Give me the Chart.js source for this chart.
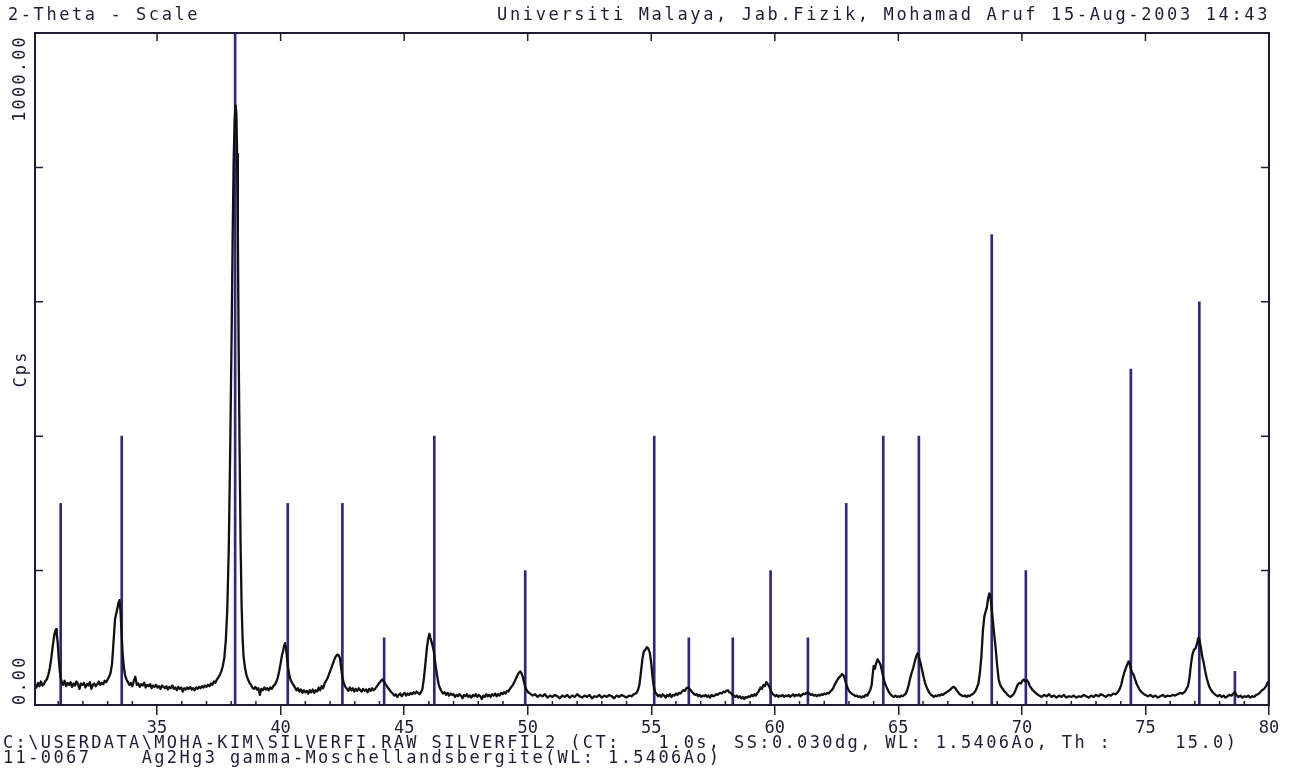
<!DOCTYPE html>
<html>
<head>
<meta charset="utf-8">
<script src="https://cdn.jsdelivr.net/npm/chart.js@4.4.0/dist/chart.umd.min.js"></script>
<style>
    html, body { margin: 0; padding: 0; background: #ffffff; }
    #wrap { width: 1291px; height: 775px; }
</style>
</head>
<body>
<div id="wrap"><canvas id="xrd" width="1291" height="775"></canvas></div>
<script>
var scan30to34 = [
    [30.06,30],[30.12,26],[30.18,33],[30.24,28],[30.30,35],[30.36,29],[30.42,31],[30.48,36],[30.54,38],
    [30.60,45],[30.66,55],[30.72,70],[30.78,88],[30.84,104],[30.88,110],[30.91,113],[30.94,106],[30.98,92],
    [31.02,70],[31.06,52],[31.10,40],[31.15,34],[31.20,30],
    [31.26,36],[31.32,28],[31.38,33],[31.44,30],[31.50,34],[31.56,27],[31.62,32],[31.68,29],[31.74,35],
    [31.80,31],[31.86,24],[31.92,32],[31.98,30],[32.04,33],[32.10,26],[32.16,31],[32.22,29],[32.28,34],
    [32.34,24],[32.40,30],[32.46,32],[32.52,28],[32.58,31],[32.64,35],[32.70,30],[32.76,33],[32.82,31],
    [32.88,36],[32.94,34],[33.00,38],[33.06,42],
    [33.12,48],[33.18,62],[33.24,95],[33.30,128],[33.36,138],[33.40,145],[33.44,152],[33.48,156],
    [33.52,140],[33.56,110],[33.60,80],[33.65,58],[33.70,45],[33.76,38],[33.82,34]
];
var scan34to39 = [
    [33.88,30],[33.94,33],[34.00,28],[34.06,36],[34.12,42],[34.18,30],[34.24,32],[34.30,27],[34.36,31],
    [34.42,29],[34.48,33],[34.54,26],[34.60,30],[34.66,28],[34.72,31],[34.78,25],[34.84,29],[34.90,27],
    [34.96,30],[35.02,26],[35.08,28],[35.14,24],[35.20,29],[35.26,27],[35.32,25],[35.38,28],[35.44,23],
    [35.50,27],[35.56,25],[35.62,29],[35.68,24],[35.74,26],[35.80,22],[35.86,27],[35.92,24],[35.98,26],
    [36.04,20],[36.10,25],[36.16,23],[36.22,26],[36.28,24],[36.34,27],[36.40,23],[36.46,25],[36.52,22],
    [36.58,26],[36.64,24],[36.70,27],[36.76,25],[36.82,28],[36.88,26],[36.94,29],[37.00,27],[37.06,30],
    [37.12,28],[37.18,32],[37.24,30],[37.30,35],[37.36,33],[37.42,38],[37.48,41],[37.54,45],
    [37.60,50],[37.66,58],[37.72,70],[37.78,95],[37.84,140],[37.90,230],[37.96,380],[38.02,560],
    [38.06,700],[38.10,810],[38.14,870],[38.18,892],[38.21,880],[38.24,820],[38.27,700],[38.30,540],
    [38.34,380],[38.38,240],[38.42,150],[38.46,100],[38.50,72],[38.56,55],[38.62,44],[38.68,38],[38.74,33]
];
var scan39to43 = [
    [38.80,30],[38.86,26],[38.92,24],[38.98,27],[39.04,23],[39.10,25],[39.16,15],[39.22,24],[39.28,22],
    [39.34,26],[39.40,23],[39.46,25],[39.52,22],[39.58,26],[39.64,24],[39.70,28],[39.76,30],[39.82,34],
    [39.88,40],[39.94,50],[40.00,62],[40.06,75],[40.10,80],[40.14,88],[40.18,92],[40.22,84],[40.26,70],
    [40.30,56],[40.35,45],[40.40,38],[40.46,33],[40.52,30],
    [40.58,26],[40.64,22],[40.70,25],[40.76,20],[40.82,23],[40.88,18],[40.94,22],[41.00,19],[41.06,21],
    [41.12,17],[41.18,22],[41.24,19],[41.30,23],[41.36,18],[41.42,22],[41.48,20],[41.54,26],[41.60,22],
    [41.66,28],[41.72,25],[41.78,32],[41.84,36],[41.90,40],
    [41.96,46],[42.02,52],[42.08,58],[42.14,64],[42.20,70],[42.25,73],[42.30,75],[42.35,74],[42.40,70],
    [42.45,55],[42.50,42],[42.55,33],[42.62,27]
];
var scan43to50 = [
    [42.68,24],[42.74,21],[42.80,26],[42.86,22],[42.92,25],[42.98,20],[43.04,24],[43.10,21],[43.16,25],
    [43.22,22],[43.28,20],[43.34,24],[43.40,21],[43.46,23],[43.52,19],[43.58,24],[43.64,21],[43.70,25],
    [43.76,22],[43.82,24],[43.88,27],[43.94,30],[44.00,33],[44.06,36],[44.12,38],[44.18,35],[44.24,31],
    [44.30,28],[44.36,25],[44.42,22],[44.48,19],[44.54,17],[44.60,14],[44.66,16],[44.72,12],[44.78,15],
    [44.84,17],[44.90,13],[44.96,16],[45.02,18],[45.08,14],[45.14,17],[45.20,15],[45.26,18],[45.32,16],
    [45.38,19],[45.44,17],[45.50,20],[45.56,18],[45.62,16],[45.68,19],[45.74,24],
    [45.80,40],[45.86,62],[45.92,85],[45.97,98],[46.02,106],[46.06,100],[46.10,95],[46.15,88],[46.20,80],
    [46.25,65],[46.30,52],[46.35,40],[46.40,30],[46.46,24],
    [46.52,20],[46.58,17],[46.64,19],[46.70,15],[46.76,18],[46.82,14],[46.88,17],[46.94,15],[47.00,16],
    [47.06,12],[47.12,15],[47.18,13],[47.24,16],[47.30,14],[47.36,10],[47.42,15],[47.48,13],[47.54,16],
    [47.60,12],[47.66,14],[47.72,11],[47.78,15],[47.84,13],[47.90,16],[47.96,12],[48.02,15],[48.08,13],
    [48.14,9],[48.20,14],[48.26,12],[48.32,16],[48.38,13],[48.44,15],[48.50,12],[48.56,16],[48.62,14],
    [48.68,17],[48.74,13],[48.80,16],[48.86,14],[48.92,18],[48.98,16],[49.04,19],[49.10,17],[49.16,21],
    [49.22,20],[49.28,24],[49.34,27],
    [49.40,30],[49.46,34],[49.52,39],[49.58,44],[49.64,48],[49.70,50],[49.75,47],[49.80,42],[49.85,34],
    [49.90,27],[49.96,22],[50.02,19]
];
var scan50to55 = [
    [50.10,17],[50.20,14],[50.30,16],[50.40,12],[50.50,15],[50.60,13],[50.70,16],[50.80,11],[50.90,14],
    [51.00,12],[51.10,15],[51.20,13],[51.30,10],[51.40,14],[51.50,12],[51.60,15],[51.70,11],[51.80,14],
    [51.90,12],[52.00,16],[52.10,13],[52.20,11],[52.30,14],[52.40,12],[52.50,15],[52.60,10],[52.70,13],
    [52.80,12],[52.90,15],[53.00,11],[53.10,14],[53.20,12],[53.30,15],[53.40,13],[53.50,10],[53.60,14],
    [53.70,12],[53.80,15],[53.90,13],[54.00,11],[54.10,14],[54.20,13],[54.30,16],[54.40,18],[54.46,22],
    [54.52,30],[54.58,48],[54.64,68],[54.70,80],[54.76,82],[54.82,86],[54.88,84],[54.94,78],[55.00,62],
    [55.05,42],[55.10,28],[55.16,19]
];
var scan55to62 = [
    [55.22,16],[55.28,13],[55.34,15],[55.40,12],[55.46,16],[55.52,14],[55.58,11],[55.64,15],[55.70,13],
    [55.76,16],[55.82,12],[55.88,15],[55.94,14],[56.00,17],[56.06,15],[56.12,18],[56.18,17],[56.24,20],
    [56.30,22],[56.36,21],[56.42,25],[56.48,26],[56.54,24],[56.60,22],[56.66,19],[56.72,17],[56.78,15],
    [56.84,16],[56.90,13],[56.96,15],[57.02,12],[57.08,14],[57.14,13],[57.20,15],[57.26,12],[57.32,14],
    [57.38,11],[57.44,15],[57.50,13],[57.56,14],[57.62,16],[57.68,15],[57.74,17],[57.80,18],[57.86,17],
    [57.92,20],[57.98,19],[58.04,21],[58.10,22],[58.16,19],[58.22,18],[58.28,15],[58.34,14],[58.40,12],
    [58.46,14],[58.52,11],[58.58,13],[58.64,10],[58.70,12],[58.76,9],[58.82,12],[58.88,11],[58.94,13],
    [59.00,12],[59.06,15],[59.12,13],[59.18,16],[59.24,14],[59.30,18],[59.36,21],[59.42,26],[59.48,24],
    [59.54,30],[59.60,28],[59.66,34],[59.72,31],[59.78,27],[59.84,21],[59.90,17],[59.96,15],[60.02,13],
    [60.08,15],[60.14,12],[60.20,14],[60.26,13],[60.32,15],[60.38,12],[60.44,14],[60.50,13],[60.56,15],
    [60.62,12],[60.68,14],[60.74,16],[60.80,13],[60.86,15],[60.92,14],[60.98,16],[61.04,13],[61.10,15],
    [61.16,17],[61.22,16],[61.28,18],[61.34,19],[61.40,17],[61.46,15],[61.52,16],[61.58,14],[61.64,15],
    [61.70,13],[61.76,15],[61.82,14],[61.88,16],[61.94,15]
];
var scan62to68 = [
    [62.00,17],[62.06,16],[62.12,18],[62.18,17],[62.24,20],[62.30,22],[62.36,25],[62.42,30],[62.48,34],
    [62.54,38],[62.60,41],[62.66,43],[62.72,46],[62.78,44],[62.84,38],[62.90,30],[62.96,24],[63.02,20],
    [63.08,18],[63.14,16],[63.20,15],[63.26,13],[63.32,14],[63.38,12],[63.44,13],[63.50,11],[63.56,13],
    [63.62,12],[63.68,15],[63.74,14],[63.80,18],[63.86,22],[63.92,30],[63.96,45],[64.00,58],[64.05,54],
    [64.10,62],[64.16,68],[64.22,64],[64.28,60],[64.34,50],[64.40,40],[64.46,32],[64.52,27],[64.58,22],
    [64.64,18],[64.70,15],[64.76,13],[64.82,12],[64.88,14],[64.94,12],[65.00,13],[65.06,12],[65.12,14],
    [65.18,13],[65.24,15],[65.30,17],[65.36,22],[65.42,30],[65.48,40],[65.54,48],[65.60,55],[65.66,64],
    [65.72,72],[65.78,77],[65.84,70],[65.90,62],[65.96,52],[66.02,42],[66.08,33],[66.14,27],[66.20,22],
    [66.26,18],[66.32,15],[66.38,14],[66.44,12],[66.50,14],[66.56,13],[66.62,15],[66.68,14],[66.74,16],
    [66.80,15],[66.86,17],[66.92,18],[66.98,20],[67.04,21],[67.10,23],[67.16,25],[67.22,27],[67.28,26],
    [67.34,23],[67.40,20],[67.46,17],[67.52,15],[67.58,14],[67.64,13],[67.70,14],[67.76,12],[67.82,14],
    [67.88,13],[67.94,15]
];
var scan68to74 = [
    [68.00,16],[68.06,18],[68.12,21],[68.18,26],[68.24,32],[68.30,48],[68.36,72],[68.42,110],[68.48,132],
    [68.54,140],[68.58,145],[68.63,158],[68.68,166],[68.72,164],[68.76,150],[68.82,127],[68.88,105],
    [68.94,84],[69.00,58],[69.06,38],[69.12,30],[69.18,26],[69.24,23],[69.30,20],[69.36,18],[69.42,15],
    [69.48,13],[69.54,12],[69.60,14],[69.66,16],[69.72,20],[69.78,26],[69.84,31],[69.90,33],[69.96,32],
    [70.02,36],[70.08,38],[70.14,35],[70.20,37],[70.26,34],[70.32,28],[70.38,25],[70.44,22],[70.50,20],
    [70.56,18],[70.62,16],
    [70.70,14],[70.80,12],[70.90,15],[71.00,13],[71.10,16],[71.20,12],[71.30,14],[71.40,11],[71.50,14],
    [71.60,12],[71.70,15],[71.80,11],[71.90,13],[72.00,12],[72.10,14],[72.20,11],[72.30,13],[72.40,12],
    [72.50,15],[72.60,13],[72.70,11],[72.80,14],[72.90,12],[73.00,15],[73.10,13],[73.20,16],[73.30,14],
    [73.40,12],[73.50,15],[73.60,14],[73.70,17],[73.80,16],[73.90,20]
];
var scan74to80 = [
    [73.96,24],[74.02,30],[74.08,40],[74.14,48],[74.20,54],[74.26,60],[74.32,65],[74.36,62],[74.40,55],
    [74.46,48],[74.52,45],[74.58,38],[74.64,32],[74.70,27],[74.76,23],[74.82,20],[74.88,18],[74.94,16],
    [75.00,15],[75.10,13],[75.20,15],[75.30,12],[75.40,14],[75.50,11],[75.60,13],[75.70,15],[75.80,12],
    [75.90,14],[76.00,13],[76.10,15],[76.20,14],[76.30,16],[76.40,18],[76.50,17],[76.60,20],[76.66,24],
    [76.72,28],[76.78,40],[76.84,60],[76.90,75],[76.96,82],[77.02,84],[77.08,90],[77.14,100],[77.18,98],
    [77.24,86],[77.30,72],[77.36,62],[77.42,50],[77.48,40],[77.54,32],[77.60,26],[77.66,22],[77.72,19],
    [77.78,17],[77.84,15],[77.92,13],[78.00,15],[78.08,12],[78.16,14],[78.24,11],[78.32,13],[78.40,15],
    [78.48,14],[78.56,17],[78.62,19],[78.68,15],[78.76,12],[78.84,14],[78.92,11],[79.00,13],[79.08,12],
    [79.16,14],[79.24,11],[79.32,13],[79.40,12],[79.48,15],[79.56,16],[79.64,19],[79.72,22],[79.80,24],
    [79.88,28],[79.94,33],[80.00,36]
];

// Reference pattern 11-0067 (Ag2Hg3), stick positions and heights
var stickAngle = [31.10, 33.57, 38.16, 40.29, 42.50, 44.19, 46.22, 49.90, 55.12, 56.52, 58.30,
                  59.83, 61.34, 62.89, 64.39, 65.83, 68.78, 70.16, 74.41, 77.18, 78.62, 80.00];
var stickCps = [300, 400, 1000, 300, 300, 100, 400, 200, 400, 100, 100,
                200, 100, 300, 400, 400, 700, 200, 500, 600, 50, 200];

var yLabelValues = [0, 1000];
var yTickValues = [200, 400, 600, 800];

var headerLeft = "2-Theta - Scale";
var headerRight = "Universiti Malaya, Jab.Fizik, Mohamad Aruf 15-Aug-2003 14:43";
var footerLine1 = "C:\\USERDATA\\MOHA-KIM\\SILVERFI.RAW SILVERFIL2 (CT:   1.0s, SS:0.030dg, WL: 1.5406Ao, Th :     15.0)";
var footerLine2 = "11-0067    Ag2Hg3 gamma-Moschellandsbergite(WL: 1.5406Ao)";
var yTitle = "Cps";

var ink = "#1d1d35";
var monoFont = "'DejaVu Sans Mono', 'Liberation Mono', monospace";

// build the datasets
var scanData = [].concat(scan30to34, scan34to39, scan39to43, scan43to50, scan50to55,
                         scan55to62, scan62to68, scan68to74, scan74to80)
    .map(function (p) { return { x: p[0], y: p[1] }; });
var stickData = stickAngle.map(function (a, i) { return { x: a, y: stickCps[i] }; });

// draw monospace text with a fixed character advance
function drawMono(ctx, text, x, y, advance, align) {
    ctx.letterSpacing = "0px";
    var natural = ctx.measureText("0").width;
    ctx.letterSpacing = (advance - natural).toFixed(2) + "px";
    ctx.textAlign = align || "left";
    ctx.fillText(text, x, y);
    ctx.letterSpacing = "0px";
}

// frame, inward ticks and all the printed text
var framePlugin = {
    id: "frame",
    afterDraw: function (chart) {
        var ctx = chart.ctx;
        var a = chart.chartArea;
        var xs = chart.scales.x;
        var ys = chart.scales.y;
        ctx.save();
        ctx.strokeStyle = ink;
        ctx.lineWidth = 2;
        ctx.strokeRect(a.left, a.top, a.right - a.left, a.bottom - a.top);

        ctx.lineWidth = 1.5;
        ctx.beginPath();
        yTickValues.forEach(function (v) {
            var py = ys.getPixelForValue(v);
            ctx.moveTo(a.left, py); ctx.lineTo(a.left + 8, py);
            ctx.moveTo(a.right, py); ctx.lineTo(a.right - 8, py);
        });
        for (var t = 31; t < 80; t++) {
            var px = xs.getPixelForValue(t);
            if (t % 5 === 0) {
                ctx.moveTo(px, a.top); ctx.lineTo(px, a.top + 8);
            } else {
                ctx.moveTo(px, a.bottom); ctx.lineTo(px, a.bottom - 4);
            }
        }
        ctx.stroke();

        ctx.fillStyle = ink;
        ctx.font = "17px " + monoFont;
        ctx.textBaseline = "middle";
        drawMono(ctx, headerLeft, 8, 16, 12.8, "left");
        drawMono(ctx, headerRight, 497, 16, 12.88, "left");
        drawMono(ctx, footerLine1, 3, 744, 12.6, "left");
        drawMono(ctx, footerLine2, 3, 759, 12.6, "left");

        // rotated y labels: bottom one starts at 0, top one ends at the top
        ctx.save();
        ctx.translate(21, ys.getPixelForValue(yLabelValues[0]));
        ctx.rotate(-Math.PI / 2);
        drawMono(ctx, yLabelValues[0].toFixed(2), 0, 0, 12.4, "left");
        ctx.restore();

        ctx.save();
        ctx.translate(21, ys.getPixelForValue(yLabelValues[1]) + 2);
        ctx.rotate(-Math.PI / 2);
        drawMono(ctx, yLabelValues[1].toFixed(2), 0, 0, 12.4, "right");
        ctx.restore();

        ctx.save();
        ctx.translate(22, (a.top + a.bottom) / 2);
        ctx.rotate(-Math.PI / 2);
        drawMono(ctx, yTitle, 0, 0, 12.4, "center");
        ctx.restore();

        ctx.restore();
    }
};

new Chart(document.getElementById("xrd"), {
    type: "line",
    data: {
        datasets: [
            {
                type: "line",
                label: "SILVERFIL2",
                data: scanData,
                borderColor: "#111111",
                borderWidth: 2.3,
                borderJoinStyle: "round",
                pointRadius: 0,
                tension: 0,
                order: 0
            },
            {
                type: "bar",
                label: "11-0067 Ag2Hg3",
                data: stickData,
                backgroundColor: "#302878",
                barThickness: 2,
                order: 1
            }
        ]
    },
    options: {
        responsive: false,
        animation: false,
        layout: { padding: { top: 33, right: 22, left: 0, bottom: 0 } },
        plugins: {
            legend: { display: false },
            tooltip: { enabled: false },
            title: { display: false }
        },
        scales: {
            x: {
                type: "linear",
                min: 30.06,
                max: 80,
                offset: false,
                ticks: {
                    stepSize: 5,
                    includeBounds: false,
                    autoSkip: false,
                    maxRotation: 0,
                    padding: 3,
                    color: ink,
                    font: { family: monoFont, size: 17 }
                },
                grid: {
                    display: true,
                    offset: false,
                    drawOnChartArea: false,
                    drawTicks: true,
                    tickLength: 10,
                    color: ink,
                    lineWidth: 1.5
                },
                border: { display: true, color: ink, width: 2 },
                afterFit: function (scale) { scale.height = 70; }
            },
            y: {
                type: "linear",
                min: 0,
                max: 1000,
                ticks: { display: false },
                grid: { display: false },
                border: { display: true, color: ink, width: 2 },
                afterFit: function (scale) { scale.width = 35; }
            }
        }
    },
    plugins: [framePlugin]
});
</script>
</body>
</html>
